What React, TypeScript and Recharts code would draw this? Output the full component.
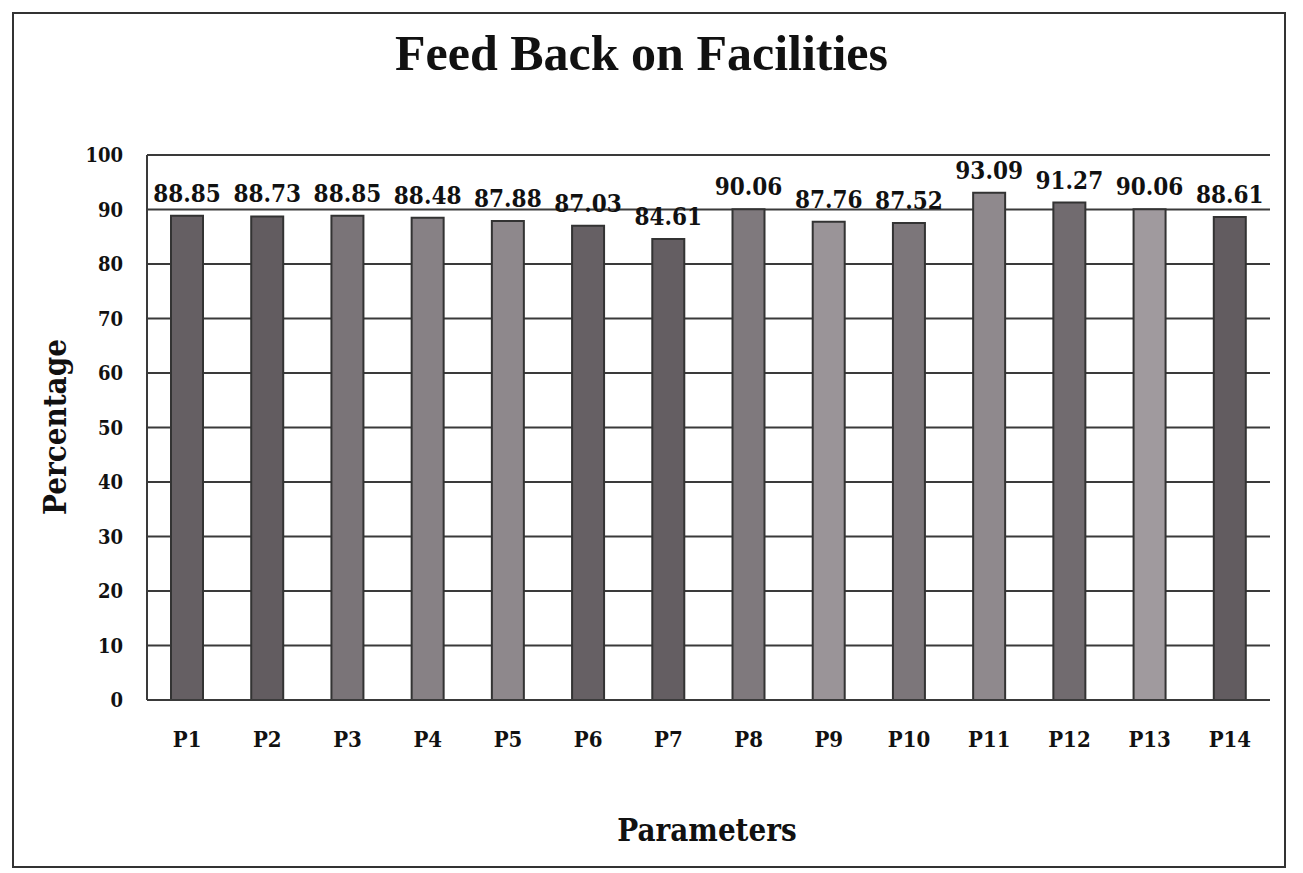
import { BarChart, Bar, XAxis, YAxis, CartesianGrid, Cell, LabelList } from "recharts";

const parameters = ["P1", "P2", "P3", "P4", "P5", "P6", "P7", "P8", "P9", "P10", "P11", "P12", "P13", "P14"];
const percentages = [88.85, 88.73, 88.85, 88.48, 87.88, 87.03, 84.61, 90.06, 87.76, 87.52, 93.09, 91.27, 90.06, 88.61];
const yTicks = [0, 10, 20, 30, 40, 50, 60, 70, 80, 90, 100];

// scanned greys, slightly purple, differ bar to bar
const BAR_COLORS = [
  "#655f63", "#625c60", "#7a7478", "#878185", "#8e888c", "#666064", "#645e62",
  "#7f797d", "#9a9498", "#7c767a", "#8f898d", "#716b6f", "#a09a9e", "#625c60",
];

const SERIF = "'DejaVu Serif Condensed', 'DejaVu Serif', serif";

const data = parameters.map((p, i) => ({ name: p, value: percentages[i] }));

export default function App() {
  return (
    <div style={{ position: "absolute", left: 0, top: 0, width: 1303, height: 873, background: "#fff", overflow: "hidden" }}>
      <div
        style={{
          position: "absolute",
          left: 12,
          top: 12,
          width: 1274,
          height: 856,
          border: "2px solid #333",
          boxSizing: "border-box",
        }}
      />
      <div
        style={{
          position: "absolute",
          left: 0,
          top: 24,
          width: 1283,
          textAlign: "center",
          fontFamily: "'Liberation Serif', serif",
          fontWeight: "bold",
          fontSize: 50,
          color: "#111",
        }}
      >
        Feed Back on Facilities
      </div>
      <div style={{ position: "absolute", left: 0, top: 0 }}>
        <BarChart width={1303} height={873} data={data} margin={{ top: 155, right: 33, bottom: 143, left: 87 }} barSize={32}>
          <CartesianGrid vertical={false} stroke="#3a3a3a" strokeWidth={2} />
          <XAxis
            dataKey="name"
            axisLine={{ stroke: "#3a3a3a", strokeWidth: 2 }}
            tickLine={false}
            tickSize={0}
            tickMargin={31}
            tick={{ fontFamily: SERIF, fontWeight: "bold", fontSize: 22, fill: "#111" }}
            interval={0}
          />
          <YAxis
            domain={[0, 100]}
            ticks={yTicks}
            width={60}
            axisLine={{ stroke: "#3a3a3a", strokeWidth: 2 }}
            tickLine={false}
            tickSize={0}
            tickMargin={24}
            tick={{ fontFamily: SERIF, fontWeight: "bold", fontSize: 20, fill: "#111" }}
          />
          <Bar dataKey="value" stroke="#333" strokeWidth={2} isAnimationActive={false}>
            {data.map((d, i) => (
              <Cell key={d.name} fill={BAR_COLORS[i]} />
            ))}
            <LabelList
              dataKey="value"
              position="top"
              offset={14}
              formatter={(v: number) => v.toFixed(2)}
              style={{ fontFamily: SERIF, fontWeight: "bold", fontSize: 24, fill: "#111" }}
            />
          </Bar>
        </BarChart>
      </div>
      <div
        style={{
          position: "absolute",
          left: 55,
          top: 427,
          transform: "translate(-50%, -50%) rotate(-90deg)",
          fontFamily: SERIF,
          fontWeight: "bold",
          fontSize: 31,
          color: "#111",
          whiteSpace: "nowrap",
        }}
      >
        Percentage
      </div>
      <div
        style={{
          position: "absolute",
          left: 707,
          top: 830,
          transform: "translate(-50%, -50%)",
          fontFamily: SERIF,
          fontWeight: "bold",
          fontSize: 31,
          color: "#111",
          whiteSpace: "nowrap",
        }}
      >
        Parameters
      </div>
    </div>
  );
}
